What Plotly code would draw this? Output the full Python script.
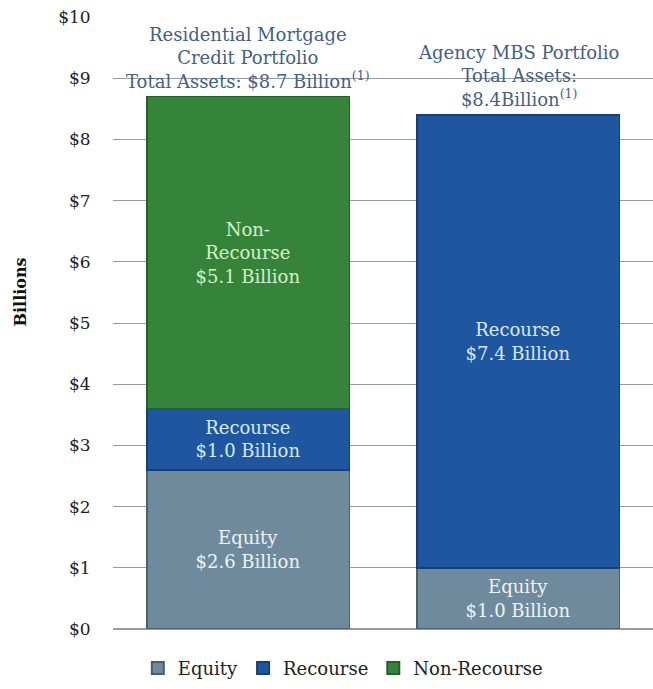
import plotly.graph_objects as go

# Portfolio categories and funding components (USD billions)
portfolios = ["Residential Mortgage Credit", "Agency MBS"]
equity = [2.6, 1.0]
recourse = [1.0, 7.4]
non_recourse = [5.1, None]

portfolio_titles = [
    "Residential Mortgage<br>Credit Portfolio<br>Total Assets: ${:.1f} Billion<sup>(1)</sup>",
    "Agency MBS Portfolio<br>Total Assets:<br>${:.1f}Billion<sup>(1)</sup>",
]

y_ticks = list(range(0, 11))
y_tick_text = [f"${v}" for v in y_ticks]

FONT = "DejaVu Serif"

series = [
    ("Equity", equity, "#6f8a9c", "#4b5f6e", "#eef3f6", "Equity"),
    ("Recourse", recourse, "#1f56a0", "#153f78", "#dbe8f8", "Recourse"),
    ("Non-Recourse", non_recourse, "#35843a", "#24602a", "#d4f2c8", "Non-<br>Recourse"),
]

fig = go.Figure()
for name, vals, color, edge, txtcol, label in series:
    texts = [f"{label}<br>${v:.1f} Billion" if v else None for v in vals]
    fig.add_trace(go.Bar(
        name=name,
        x=portfolios,
        y=vals,
        text=texts,
        textposition="inside",
        insidetextanchor="middle",
        textangle=0,
        textfont=dict(family=FONT, size=18, color=txtcol),
        marker=dict(color=color, line=dict(color=edge, width=1.5)),
        hoverinfo="skip",
    ))

totals = [sum(v or 0 for v in vals) for vals in zip(equity, recourse, non_recourse)]
for cat, tot, tmpl in zip(portfolios, totals, portfolio_titles):
    fig.add_annotation(
        x=cat, y=tot, xref="x", yref="y",
        text=tmpl.format(tot),
        showarrow=False, yanchor="bottom", yshift=3,
        font=dict(family=FONT, size=18, color="#3f6189"),
        align="center",
    )

# vertical axis caption
fig.add_annotation(
    text="<b>Billions</b>", xref="paper", yref="paper",
    x=-0.172, y=0.55, xanchor="center", yanchor="middle",
    textangle=-90, showarrow=False,
    font=dict(family=FONT, size=16, color="#111111"),
)

fig.update_layout(
    barmode="stack",
    bargap=0.25,
    width=653, height=689,
    margin=dict(l=113, r=0, t=17, b=60),
    paper_bgcolor="white",
    plot_bgcolor="white",
    font=dict(family=FONT, size=17, color="#222222"),
    uniformtext=dict(minsize=12, mode="show"),
    showlegend=True,
    legend=dict(
        orientation="h",
        xref="container", yref="container",
        x=0.525, xanchor="center",
        y=0.03, yanchor="middle",
        font=dict(family=FONT, size=18, color="#222222"),
        itemsizing="constant",
        traceorder="normal",
    ),
    xaxis=dict(showticklabels=False, showgrid=False, zeroline=False, showline=False),
    yaxis=dict(
        range=[0, 10],
        tickmode="array",
        tickvals=y_ticks,
        ticktext=y_tick_text,
        showgrid=True,
        gridcolor="#9a9a9a",
        gridwidth=1.3,
        zeroline=True,
        zerolinecolor="#9a9a9a",
        zerolinewidth=2,
        ticks="outside",
        ticklen=18,
        tickcolor="rgba(0,0,0,0)",
        tickfont=dict(family=FONT, size=17, color="#222222"),
    ),
)

fig.write_html("out.html")
